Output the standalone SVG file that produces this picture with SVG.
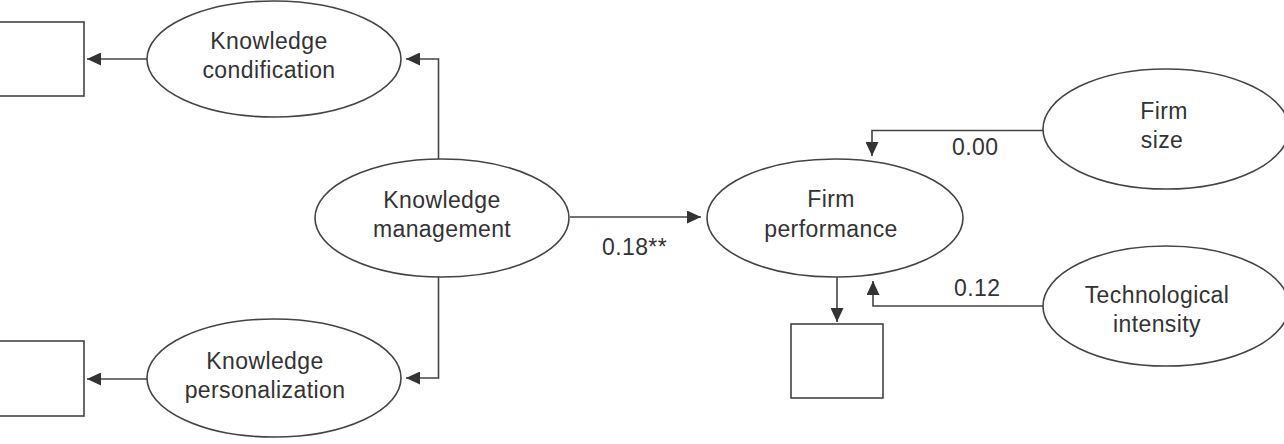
<svg xmlns="http://www.w3.org/2000/svg" width="1284" height="444" viewBox="0 0 1284 444">
<style>
.node{fill:#fff;stroke:#444;stroke-width:1.6}
.lbl{font-family:"Liberation Sans",Arial,sans-serif;font-size:23px;fill:#333;text-anchor:middle;letter-spacing:0.4px}
.num{font-family:"Liberation Sans",Arial,sans-serif;font-size:23px;fill:#333;letter-spacing:0.4px}
.conn{fill:none;stroke:#444;stroke-width:1.6}
</style>
<defs>
<marker id="ah" markerUnits="userSpaceOnUse" markerWidth="15" markerHeight="13" refX="14" refY="6.5" orient="auto">
<path d="M0,0 L14,6.5 L0,13 z" fill="#333"/>
</marker>
</defs>
<rect width="1284" height="444" fill="#fff"/>
<g id="box-kc"><rect class="node" x="-5" y="22" width="89" height="74"/></g>
<g id="box-kp"><rect class="node" x="-5" y="341" width="89" height="75"/></g>
<g id="box-fp"><rect class="node" x="791" y="324" width="92" height="74"/></g>
<g id="kc">
<ellipse class="node" cx="274" cy="59" rx="127" ry="58"/>
<text class="lbl" x="269" y="49">Knowledge</text>
<text class="lbl" x="269" y="78">condification</text>
</g>
<g id="kp">
<ellipse class="node" cx="274" cy="378" rx="127" ry="59"/>
<text class="lbl" x="265" y="369">Knowledge</text>
<text class="lbl" x="265" y="398">personalization</text>
</g>
<g id="km">
<ellipse class="node" cx="442" cy="218" rx="127" ry="59"/>
<text class="lbl" x="442" y="208">Knowledge</text>
<text class="lbl" x="442" y="237">management</text>
</g>
<g id="fp">
<ellipse class="node" cx="835" cy="218" rx="128" ry="59"/>
<text class="lbl" x="831" y="207">Firm</text>
<text class="lbl" x="831" y="237">performance</text>
</g>
<g id="fs">
<ellipse class="node" cx="1166" cy="129" rx="123" ry="60"/>
<text class="lbl" x="1164" y="119">Firm</text>
<text class="lbl" x="1162" y="148">size</text>
</g>
<g id="ti">
<ellipse class="node" cx="1166" cy="306" rx="123" ry="60"/>
<text class="lbl" x="1157" y="303">Technological</text>
<text class="lbl" x="1157" y="332">intensity</text>
</g>
<g id="connectors">
<line class="conn" x1="147" y1="59" x2="87" y2="59" marker-end="url(#ah)"/>
<line class="conn" x1="147" y1="379" x2="87" y2="379" marker-end="url(#ah)"/>
<polyline class="conn" points="438.5,159 438.5,59 406,59" marker-end="url(#ah)"/>
<polyline class="conn" points="438.5,277 438.5,378 406,378" marker-end="url(#ah)"/>
<line class="conn" x1="570" y1="217" x2="701" y2="217" marker-end="url(#ah)"/>
<line class="conn" x1="837" y1="277" x2="837" y2="322" marker-end="url(#ah)"/>
<polyline class="conn" points="1043,130.5 872,130.5 872,156" marker-end="url(#ah)"/>
<polyline class="conn" points="1043,306 873,306 873,281" marker-end="url(#ah)"/>
<text class="num" x="602" y="255">0.18**</text>
<text class="num" x="952" y="155">0.00</text>
<text class="num" x="954" y="296">0.12</text>
</g>
</svg>
